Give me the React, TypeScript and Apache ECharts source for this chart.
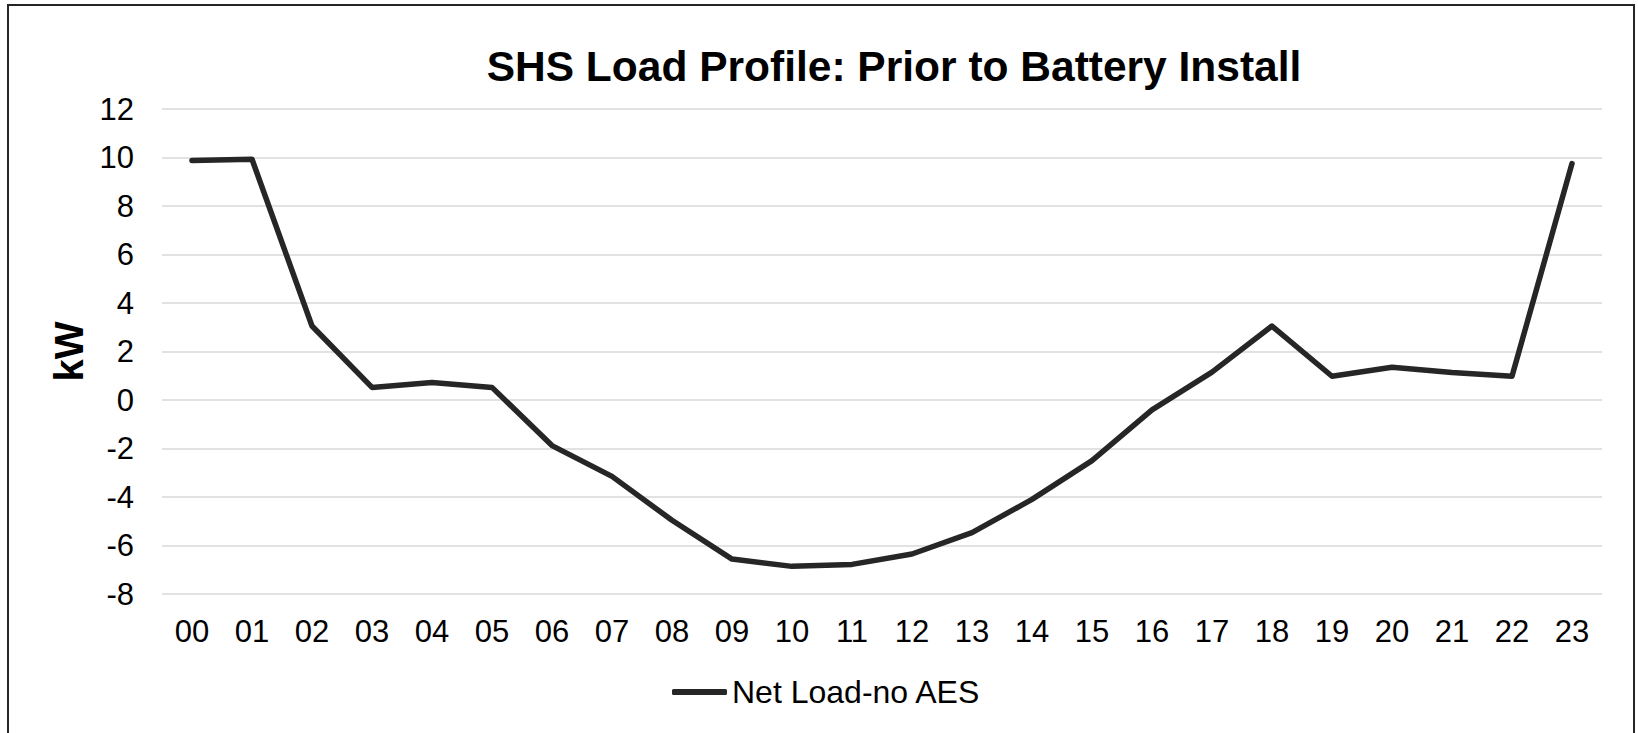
import React, { useEffect, useRef } from "react";
import * as echarts from "echarts";

const TITLE = "SHS Load Profile: Prior to Battery Install";
const SERIES_NAME = "Net Load-no AES";
const Y_NAME = "kW";
const hours = [
  "00", "01", "02", "03", "04", "05", "06", "07", "08", "09", "10", "11",
  "12", "13", "14", "15", "16", "17", "18", "19", "20", "21", "22", "23",
];
const netLoad = [
  9.88, 9.93, 3.05, 0.52, 0.72, 0.52, -1.88, -3.15, -4.96, -6.56, -6.86, -6.78,
  -6.35, -5.47, -4.1, -2.5, -0.41, 1.15, 3.05, 0.98, 1.35, 1.13, 0.98, 9.75,
];
const Y_MIN = -8;
const Y_MAX = 12;
const Y_STEP = 2;

const FONT = "'Liberation Sans', Arial, sans-serif";

export default function App() {
  const ref = useRef<HTMLDivElement>(null);
  useEffect(() => {
    if (!ref.current) return;
    const chart = echarts.init(ref.current, undefined, { renderer: "svg" });
    chart.setOption({
      animation: false,
      backgroundColor: "#ffffff",
      textStyle: { fontFamily: FONT },
      title: {
        text: TITLE,
        left: 885,
        top: 39,
        textAlign: "center",
        padding: 0,
        textStyle: {
          fontFamily: FONT,
          fontSize: 42.5,
          fontWeight: "bold",
          color: "#000000",
        },
      },
      legend: {
        left: 663,
        top: 670,
        padding: 0,
        itemWidth: 55,
        itemHeight: 6,
        textStyle: { fontFamily: FONT, fontSize: 32, color: "#000000", padding: [0, 0, 0, 0] },
        data: [{ name: SERIES_NAME, icon: "roundRect", itemStyle: { color: "#262626" } }],
      },
      grid: { left: 153, top: 103, width: 1440, height: 485, containLabel: false },
      xAxis: {
        type: "category",
        data: hours,
        boundaryGap: true,
        axisLine: { show: false },
        axisTick: { show: false },
        axisLabel: {
          margin: 22,
          fontFamily: FONT,
          fontSize: 31,
          color: "#000000",
          interval: 0,
        },
        splitLine: { show: false },
      },
      yAxis: {
        type: "value",
        min: Y_MIN,
        max: Y_MAX,
        interval: Y_STEP,
        name: Y_NAME,
        nameLocation: "middle",
        nameGap: 72,
        nameTextStyle: {
          fontFamily: FONT,
          fontSize: 40,
          fontWeight: "bold",
          color: "#000000",
        },
        axisLine: { show: false },
        axisTick: { show: false },
        axisLabel: {
          margin: 28,
          fontFamily: FONT,
          fontSize: 31,
          color: "#000000",
        },
        splitLine: { show: true, lineStyle: { color: "#d9d9d9", width: 1.5 } },
      },
      series: [
        {
          name: SERIES_NAME,
          type: "line",
          data: netLoad,
          symbol: "none",
          color: "#262626",
          lineStyle: { color: "#262626", width: 5.5, cap: "round", join: "round" },
        },
      ],
    });
    return () => chart.dispose();
  }, []);

  return (
    <div
      style={{
        position: "absolute",
        left: 7,
        top: 4,
        width: 1628,
        height: 800,
        border: "2px solid #262626",
        boxSizing: "border-box",
        background: "#fff",
      }}
    >
      <div ref={ref} style={{ width: 1624, height: 760 }} />
    </div>
  );
}
